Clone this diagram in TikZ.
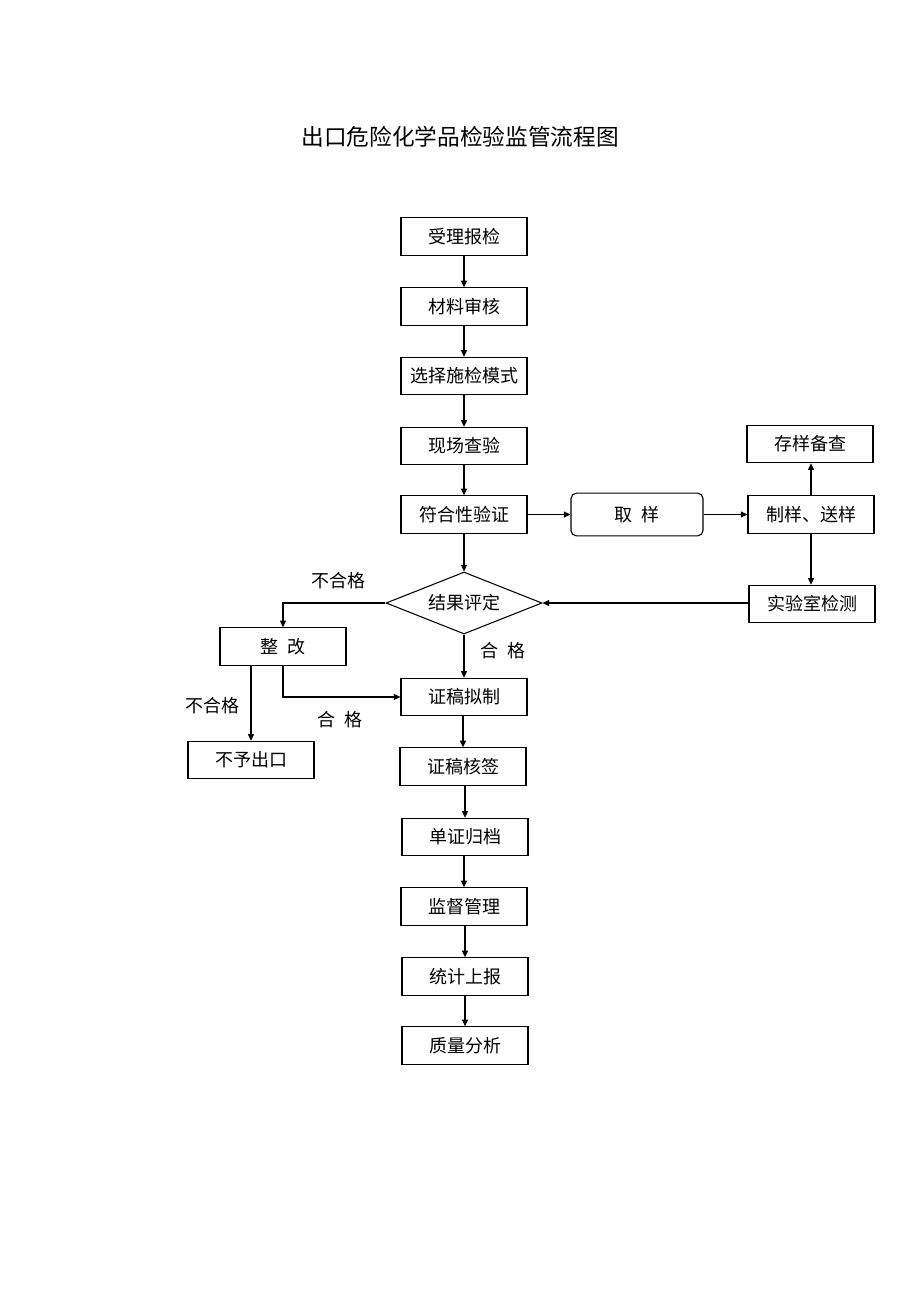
\documentclass[tikz,border=0pt]{standalone}
\usepackage{fontspec}
\setmainfont{Noto Sans CJK SC}
\usetikzlibrary{arrows.meta,shapes.geometric}
\begin{document}
\begin{tikzpicture}[x=0.75pt,y=-0.75pt,
  box/.style={draw,line width=0.8pt,minimum width=94.5pt,minimum height=28pt,inner sep=0pt,font=\fontsize{13.5}{15}\selectfont},
  rbox/.style={box,rounded corners=4pt,minimum width=99pt,minimum height=32pt},
  dia/.style={draw,line width=0.8pt,diamond,aspect=2.5,minimum width=117pt,minimum height=46.5pt,inner sep=0pt,font=\fontsize{13.5}{15}\selectfont},
  arr/.style={line width=0.8pt,-{Triangle[length=5pt,width=4.5pt]}},
  lab/.style={font=\fontsize{13.5}{15}\selectfont,inner sep=0pt}]
\useasboundingbox[fill=white] (0,0) rectangle (920,1302);
\node[font=\fontsize{17}{20}\selectfont] (title) at (460,137) {出口危险化学品检验监管流程图};
\node[box] (a1) at (464,236.5) {受理报检};
\node[box] (a2) at (464,306.5) {材料审核};
\node[box] (a3) at (464,376) {选择施检模式};
\node[box] (a4) at (464,446) {现场查验};
\node[box] (a5) at (464,514.5) {符合性验证};
\node[rbox] (qy) at (637,514.5) {取\ \ 样};
\node[box] (zy) at (811,514.5) {制样、送样};
\node[box] (cy) at (810,444) {存样备查};
\node[box] (sy) at (812,604) {实验室检测};
\node[dia] (d) at (464,603) {结果评定};
\node[box] (zg) at (283,646.5) {整\ \ 改};
\node[box] (b1) at (464,697) {证稿拟制};
\node[box] (no) at (251,760) {不予出口};
\node[box] (b2) at (463,766.5) {证稿核签};
\node[box] (b3) at (465,837) {单证归档};
\node[box] (b4) at (464,906.5) {监督管理};
\node[box] (b5) at (465,976.5) {统计上报};
\node[box] (b6) at (465,1045.5) {质量分析};
\draw[arr] (a1) -- (a2);
\draw[arr] (a2) -- (a3);
\draw[arr] (a3) -- (a4);
\draw[arr] (a4) -- (a5);
\draw[arr] (a5) -- (d);
\draw[arr] (a5.east) -- (qy.west |- a5.east);
\draw[arr] (qy.east) -- (zy.west |- qy.east);
\draw[arr] (zy.north) -- (zy.north |- cy.south);
\draw[arr] (zy.south) -- (zy.south |- sy.north);
\draw[arr] (sy.west |- d.east) -- (d.east);
\draw[arr] (d.west) -| (zg.north);
\draw[arr] (d.south) -- (b1.north);
\draw[arr] (zg.south -| no.north) -- (no.north);
\draw[arr] (zg.south) |- (b1.west);
\draw[arr] (b1.south -| b2.north) -- (b2.north);
\draw[arr] (b2.south -| b3.north) -- (b3.north);
\draw[arr] (b3.south -| b4.north) -- (b4.north);
\draw[arr] (b4.south -| b5.north) -- (b5.north);
\draw[arr] (b5) -- (b6);
\node[lab] (l1) at (338,581) {不合格};
\node[lab] (l2) at (503,651) {合\ \ 格};
\node[lab] (l3) at (212,706) {不合格};
\node[lab] (l4) at (340,720) {合\ \ 格};
\end{tikzpicture}
\end{document}
